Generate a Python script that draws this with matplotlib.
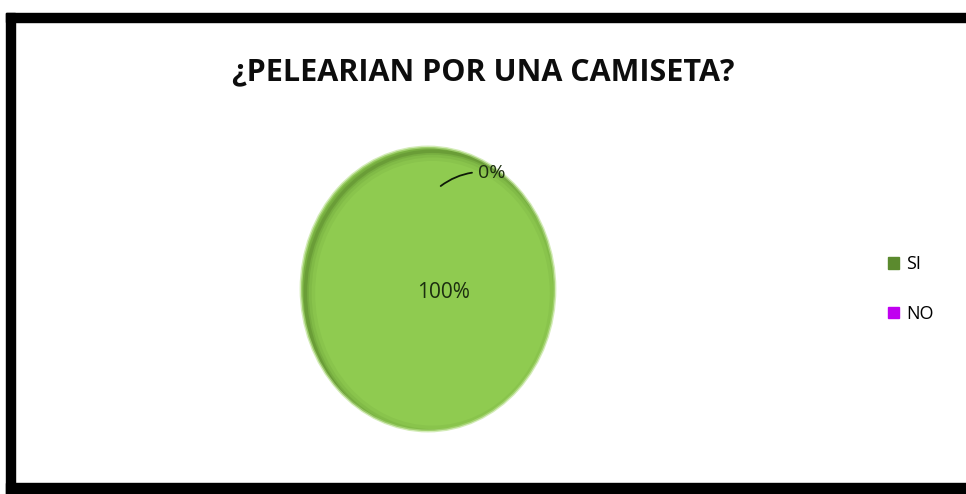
import matplotlib.pyplot as plt
import matplotlib.patches as mpatches
from matplotlib.patches import Ellipse

labels = ["SI", "NO"]
values = [100, 0]
pct_text = ["100%", "0%"]
colors = ["#8FCB50", "#CC00FF"]
legend_colors = ["#5B8A2E", "#C000F0"]
title = "¿PELEARIAN POR UNA CAMISETA?"

W, H = 966, 494
fig = plt.figure(figsize=(W / 100, H / 100), dpi=100)
fig.patch.set_facecolor("white")

# black frame (left, top, bottom; right side open like the screenshot)
def px(x, y, w, h):
    return (x / W, 1 - (y + h) / H, w / W, h / H)

for (x, y, w, h) in [(6, 13, 960, 9), (6, 13, 9, 481), (6, 483, 960, 11)]:
    l, b, ww, hh = px(x, y, w, h)
    fig.add_artist(mpatches.Rectangle((l, b), ww, hh, transform=fig.transFigure,
                                      color="black", zorder=5))

fig.text(483 / W, 1 - 72 / H, title, ha="center", va="center",
         fontsize=22, fontweight="bold", family="Open Sans", color="#0d0d0d")

# pie (slightly taller than wide, like the original)
cx, cy, rx, ry = 428, 289, 127, 142
ax = fig.add_axes(px(cx - rx - 8, cy - ry - 8, 2 * rx + 16, 2 * ry + 16))
wedges, _ = ax.pie(values, colors=colors, startangle=90, counterclock=False,
                   radius=1.0)
ax.set_aspect("auto")
ax.set_xlim(-1.063, 1.063)
ax.set_ylim(-1.056, 1.056)
ax.axis("off")

# inner shadow on the upper-left rim, clipped to the pie
for lw, a in [(14, 0.06), (9, 0.08), (5, 0.12), (2.5, 0.18)]:
    ring = Ellipse((0.035, -0.03), 2.0, 2.0, fill=False, ec="#2f5512", lw=lw,
                   alpha=a, zorder=3)
    ax.add_patch(ring)
    ring.set_clip_path(wedges[0])
# soft light edge on the lower-right
soft = Ellipse((0, 0), 2.0, 2.0, fill=False, ec="#b6df88", lw=2, alpha=0.6, zorder=3)
ax.add_patch(soft)

ax.text(0.125, -0.025, pct_text[0], ha="center", va="center", fontsize=15,
        family="Open Sans", color="#1c2e10")
ax.annotate(pct_text[1], xy=(0.10, 0.725), xytext=(0.39, 0.82),
            fontsize=14, family="Open Sans", color="#1c2e10", va="center",
            arrowprops=dict(arrowstyle="-", color="#0f1a08", lw=1.3,
                            connectionstyle="arc3,rad=0.2",
                            shrinkA=2, shrinkB=0))

handles = [mpatches.Patch(color=c, label=l) for c, l in zip(legend_colors, labels)]
fig.legend(handles=handles, loc="center left",
           bbox_to_anchor=(872 / W, 1 - 289 / H), frameon=False,
           handlelength=0.6, handleheight=0.6, handletextpad=0.4,
           labelspacing=1.75, prop={"family": "Open Sans", "size": 13})

fig.savefig("out.png", dpi=100)
